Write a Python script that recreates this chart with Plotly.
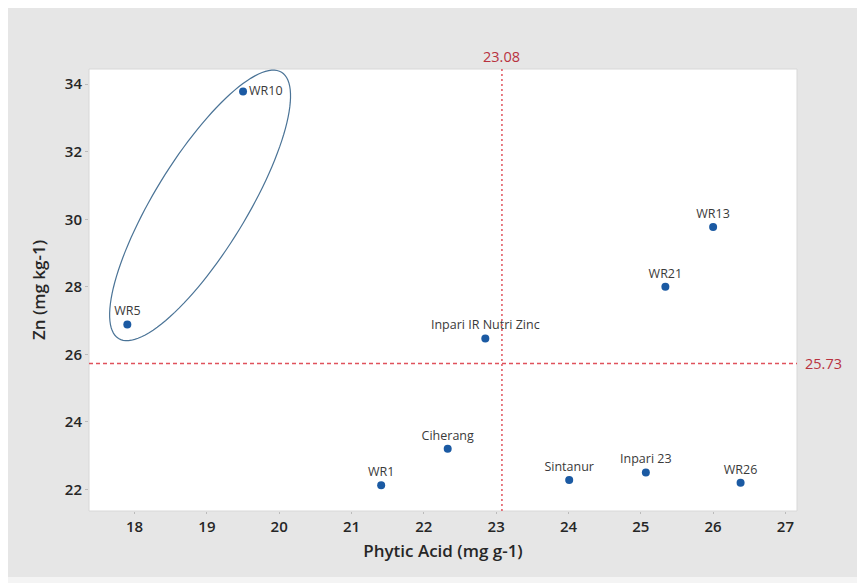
import numpy as np
import plotly.graph_objects as go

# Data
genotypes = ["WR10", "WR5", "Inpari IR Nutri Zinc", "WR13", "WR21", "Ciherang",
             "WR1", "Sintanur", "Inpari 23", "WR26"]
phytic_acid = [19.50, 17.90, 22.85, 26.00, 25.34, 22.33, 21.41, 24.01, 25.07, 26.38]
zn = [33.78, 26.88, 26.47, 29.77, 28.00, 23.20, 22.12, 22.28, 22.50, 22.20]
label_pos = ["middle right", "top center", "top center", "top center", "top center",
             "top center", "top center", "top center", "top center", "top center"]
mean_pa = 23.08
mean_zn = 25.73
x_ticks = [18, 19, 20, 21, 22, 23, 24, 25, 26, 27]
y_ticks = [22, 24, 26, 28, 30, 32, 34]

W, H = 865, 583
L, T = 81.3, 61.3
R, B = W - 789.3, H - 503
pw, ph = W - L - R, H - T - B
xr = [17.37, 27.16]
yr = [21.36, 34.45]

fig = go.Figure()
fig.add_trace(go.Scatter(
    x=phytic_acid, y=zn, mode="markers+text", text=genotypes,
    textposition=label_pos,
    textfont=dict(family="Open Sans", size=12.5, color="#3a3a3a"),
    marker=dict(color="#1b5aa3", size=8),
    cliponaxis=False, showlegend=False))

# ellipse around WR5 / WR10 (pixel-space ellipse converted to data units)
pxu = pw / (xr[1] - xr[0])
pyu = ph / (yr[1] - yr[0])
cx, cy = 18.906, 30.41
a, b, th = 156, 46, np.deg2rad(58.5)
t = np.linspace(0, 2 * np.pi, 121)
ex = a * np.cos(t) * np.cos(th) - b * np.sin(t) * np.sin(th)
ey = a * np.cos(t) * np.sin(th) + b * np.sin(t) * np.cos(th)
ell_x = cx + ex / pxu
ell_y = cy + ey / pyu
path = "M " + " L ".join(f"{x:.4f},{y:.4f}" for x, y in zip(ell_x, ell_y)) + " Z"

shapes = [
    dict(type="rect", xref="paper", yref="paper",
         x0=-L / pw, x1=(W - L) / pw, y0=-B / ph, y1=-(569 - T - ph) / ph,
         fillcolor="#f4f4f4", line=dict(width=0), layer="below"),
    dict(type="rect", xref="paper", yref="paper", x0=0, x1=1, y0=0, y1=1,
         fillcolor="white", line=dict(color="#d8d8d8", width=1), layer="below"),
    dict(type="line", xref="x", yref="paper", x0=mean_pa, x1=mean_pa, y0=0, y1=1,
         line=dict(color="#e0525c", width=1.5, dash="2px,3px")),
    dict(type="line", xref="paper", yref="y", x0=0, x1=1, y0=mean_zn, y1=mean_zn,
         line=dict(color="#e0525c", width=1.5, dash="4px,3px")),
    dict(type="path", xref="x", yref="y", path=path,
         line=dict(color="#4a7396", width=1.2)),
]

fig.update_layout(
    width=W, height=H,
    margin=dict(l=L, r=R, t=T, b=B, pad=0),
    paper_bgcolor="#e6e6e6", plot_bgcolor="rgba(0,0,0,0)",
    shapes=shapes,
    font=dict(family="Open Sans", color="#333333"),
    annotations=[
        dict(x=mean_pa, y=1, xref="x", yref="paper", text=f"{mean_pa:.2f}",
             showarrow=False, yanchor="middle", yshift=13,
             font=dict(size=14.5, color="#b8323f")),
        dict(x=1, y=mean_zn, xref="paper", yref="y", text=f"{mean_zn:.2f}",
             showarrow=False, xanchor="left", xshift=6,
             font=dict(size=14.5, color="#b8323f")),
    ],
)
fig.update_xaxes(range=xr, tickvals=x_ticks, showgrid=False, zeroline=False,
                 ticks="outside", ticklen=2, tickcolor="#bbbbbb", showline=False,
                 tickfont=dict(size=15, color="#262626", weight=600),
                 title=dict(text="Phytic Acid (mg g-1)", standoff=10,
                            font=dict(size=17, color="#262626", weight=600)))
fig.update_yaxes(range=yr, tickvals=y_ticks, showgrid=False, zeroline=False,
                 ticks="outside", ticklen=3, tickcolor="#bbbbbb", showline=False,
                 tickfont=dict(size=15, color="#262626", weight=600),
                 title=dict(text="Zn (mg kg-1)", standoff=14,
                            font=dict(size=17, color="#262626", weight=600)))

fig.write_html("out.html")
